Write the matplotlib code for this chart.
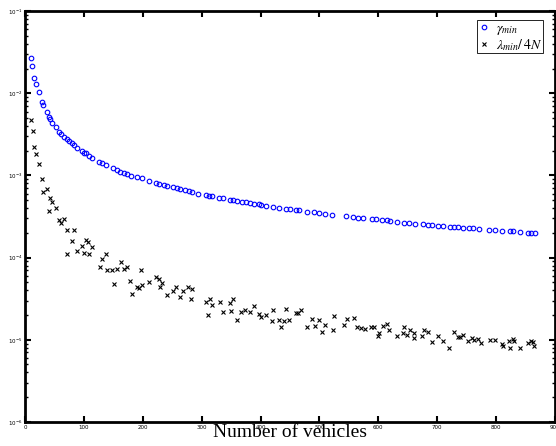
import matplotlib
matplotlib.use("Agg")
import matplotlib.pyplot as plt
from matplotlib.ticker import LogLocator, NullFormatter

plt.rcParams['mathtext.fontset'] = 'stix'

n_gamma = [10, 12, 16, 19, 23, 28, 31, 37, 40, 43, 46, 53, 58, 61, 66, 71, 74, 79, 83, 89,
           97, 101, 104, 109, 113, 126, 131, 138, 149, 157, 162, 168, 174, 180, 191, 198, 211,
           223, 228, 236, 241, 251, 258, 264, 271, 279, 283, 294, 307, 312, 318, 330, 337, 348,
           354, 360, 368, 375, 382, 389, 397, 401, 410, 421, 432, 443, 450, 460, 465, 479, 490,
           499, 510, 522, 545, 557, 566, 574, 589, 597, 606, 614, 620, 632, 644, 653, 662, 676,
           685, 692, 702, 710, 721, 729, 736, 744, 754, 761, 771, 788, 798, 811, 824, 829, 840,
           855, 860, 866]
gamma_min = [0.0266, 0.0214, 0.0152, 0.0131, 0.01026, 0.00782, 0.00713, 0.00586, 0.00518,
             0.00490, 0.00438, 0.00385, 0.00340, 0.00321, 0.00293, 0.00275, 0.00264, 0.00246,
             0.00232, 0.00214, 0.00198, 0.00189, 0.00186, 0.00174, 0.00164, 0.00146, 0.00142,
             0.00134, 0.00123, 0.00116, 0.00111, 0.00107, 0.00103, 0.000991, 0.000948,
             0.000922, 0.000848, 0.000802, 0.000786, 0.000759, 0.000743, 0.000717, 0.000697,
             0.000678, 0.000659, 0.000641, 0.000628, 0.000599, 0.000573, 0.000566, 0.000557,
             0.000531, 0.000526, 0.000506, 0.000498, 0.000489, 0.000479, 0.000471, 0.000458,
             0.000449, 0.000445, 0.000436, 0.000425, 0.000413, 0.000401, 0.000394, 0.000390,
             0.000379, 0.000376, 0.000362, 0.000356, 0.000346, 0.000342, 0.000333, 0.000318,
             0.000312, 0.000306, 0.000301, 0.000295, 0.000292, 0.000289, 0.000284, 0.000281,
             0.000271, 0.000266, 0.000264, 0.000258, 0.000254, 0.000251, 0.000247, 0.000242,
             0.000241, 0.000238, 0.000236, 0.000235, 0.000231, 0.000229, 0.000227, 0.000223,
             0.000218, 0.000217, 0.000212, 0.000209, 0.000208, 0.000205, 0.000201, 0.000200,
             0.000199]

n_lambda = [11, 13, 16, 19, 23, 29, 31, 37, 42, 46, 41, 53, 58, 61, 67, 72, 83, 79, 71, 89,
            96, 103, 107, 101, 109, 113, 131, 137, 127, 139, 148, 157, 163, 168, 173, 151, 179,
            181, 191, 194, 199, 197, 211, 223, 227, 233, 229, 241, 251, 257, 264, 269, 277, 284,
            282, 314, 307, 318, 311, 331, 337, 348, 353, 350, 360, 367, 374, 382, 389, 397, 401,
            410, 420, 422, 431, 434, 440, 444, 449, 460, 464, 468, 479, 488, 492, 500, 504, 509,
            523, 524, 542, 547, 558, 564, 571, 577, 588, 593, 600, 602, 608, 614, 619, 632, 642,
            644, 648, 654, 661, 661, 674, 678, 685, 692, 702, 710, 720, 729, 735, 739, 744, 753,
            759, 762, 770, 774, 789, 798, 811, 812, 824, 822, 829, 831, 841, 855, 859, 862, 865]
lambda_min_4n = [0.00472, 0.00350, 0.00220, 0.00182, 0.00136, 0.000912, 0.000628, 0.000684,
                 0.000536, 0.000471, 0.000372, 0.000405, 0.000284, 0.000266, 0.000292, 0.000218,
                 0.000217, 0.000158, 0.000111, 0.000121, 0.000140, 0.000164, 0.000156, 0.000113,
                 0.000110, 0.000133, 0.0000970, 0.000111, 0.0000762, 0.0000707, 0.0000707,
                 0.0000721, 0.0000891, 0.0000727, 0.0000769, 0.0000481, 0.0000519, 0.0000361,
                 0.0000435, 0.0000427, 0.0000464, 0.0000707, 0.0000509, 0.0000586, 0.0000554,
                 0.0000487, 0.0000443, 0.0000351, 0.0000396, 0.0000443, 0.0000329, 0.0000396,
                 0.0000435, 0.0000415, 0.0000316, 0.0000311, 0.0000290, 0.0000265, 0.0000202,
                 0.0000286, 0.0000216, 0.0000278, 0.0000316, 0.0000222, 0.0000174, 0.0000216,
                 0.0000229, 0.0000218, 0.0000260, 0.0000204, 0.0000191, 0.0000199, 0.0000168,
                 0.0000232, 0.0000176, 0.0000142, 0.0000168, 0.0000235, 0.0000176, 0.0000210,
                 0.0000214, 0.0000232, 0.0000142, 0.0000181, 0.0000146, 0.0000174, 0.0000123,
                 0.0000153, 0.0000132, 0.0000193, 0.0000151, 0.0000181, 0.0000183, 0.0000142,
                 0.0000139, 0.0000134, 0.0000142, 0.0000142, 0.0000111, 0.0000120, 0.0000146,
                 0.0000155, 0.0000131, 0.0000111, 0.0000120, 0.0000142, 0.0000114, 0.0000132,
                 0.0000104, 0.0000122, 0.0000111, 0.0000131, 0.0000126, 0.0000093, 0.0000112,
                 0.0000096, 0.0000079, 0.0000126, 0.0000109, 0.0000109, 0.0000113, 0.0000097,
                 0.0000106, 0.0000098, 0.0000103, 0.0000091, 0.0000099, 0.0000099, 0.0000090,
                 0.0000083, 0.0000080, 0.0000096, 0.0000103, 0.0000096, 0.0000080, 0.0000091,
                 0.0000096, 0.0000093, 0.0000084]

x_ticks = [0, 100, 200, 300, 400, 500, 600, 700, 800, 900]

fig = plt.figure(figsize=(5.56, 4.46), dpi=100)
ax = fig.add_axes([0.045, 0.054, 0.953, 0.921])

ax.plot(n_gamma, gamma_min, linestyle='none', marker='o', markersize=3.3,
        markerfacecolor='none', markeredgecolor='#0000ff', markeredgewidth=0.8,
        label=r'$\gamma_{min}$')
ax.plot(n_lambda, lambda_min_4n, linestyle='none', marker='x', markersize=2.3,
        color='black', markeredgewidth=0.8, label=r'$\lambda_{min}/\,4N$')

ax.set_yscale('log')
ax.set_xlim(0, 900)
ax.set_ylim(1e-6, 1e-1)
ax.set_xticks(x_ticks)
ax.yaxis.set_major_locator(LogLocator(base=10, numticks=10))
ax.yaxis.set_minor_locator(LogLocator(base=10, subs=range(2, 10), numticks=20))
ax.yaxis.set_minor_formatter(NullFormatter())

for s in ax.spines.values():
    s.set_linewidth(2)
ax.tick_params(which='both', direction='in', top=True, right=True,
               labelsize=4, pad=2)
ax.tick_params(which='major', length=4, width=1.5)
ax.tick_params(which='minor', length=2.5, width=1)

ax.set_xlabel('Number of vehicles', family='Liberation Serif', fontsize=14, labelpad=-4)

leg = ax.legend(loc='upper right', fontsize=10, handlelength=0.9, handletextpad=0.4,
                borderpad=0.05, labelspacing=0.0, fancybox=False, framealpha=1,
                edgecolor='black', bbox_to_anchor=(0.982, 0.985), markerscale=1.0,
                borderaxespad=0.2)
leg.get_frame().set_linewidth(0.6)
for t in leg.get_texts():
    t.set_ha('right')

fig.savefig('out.png', dpi=100)
